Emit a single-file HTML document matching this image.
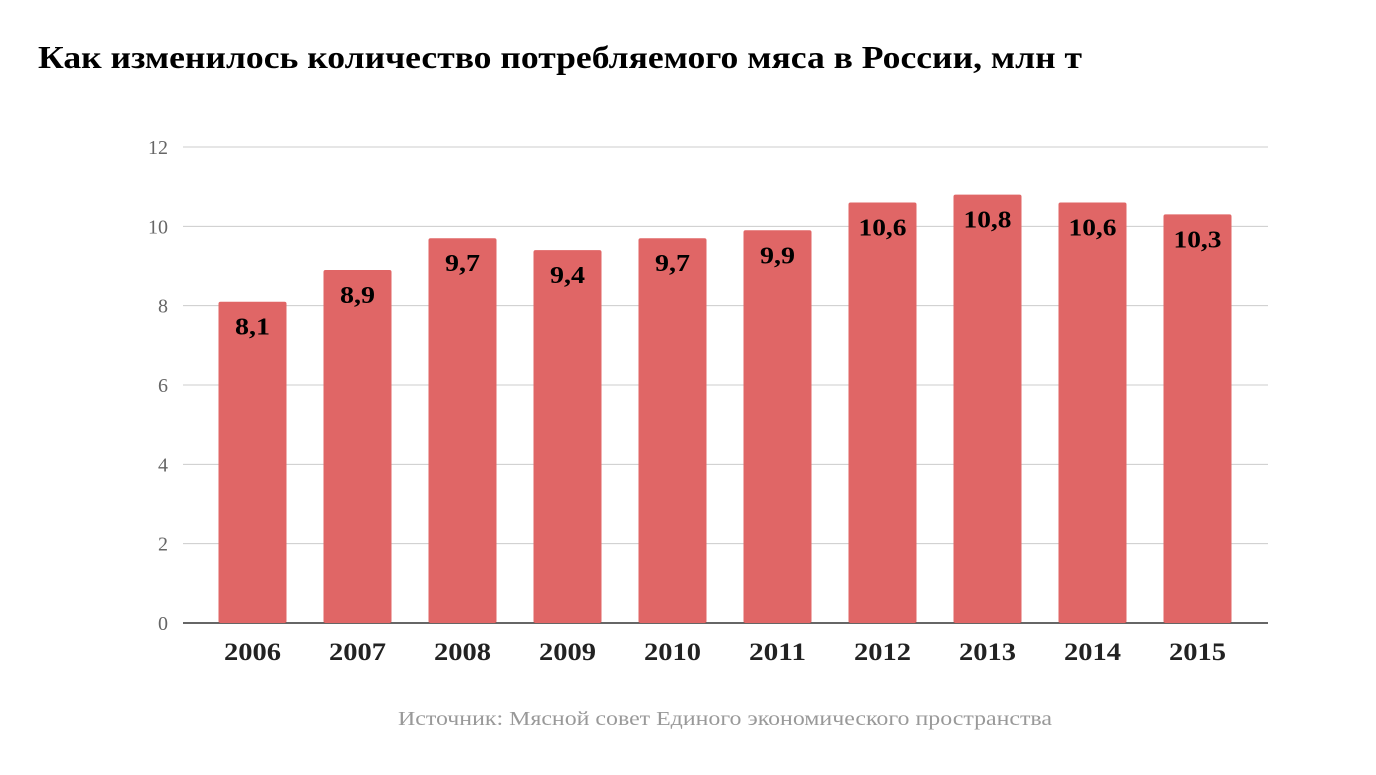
<!DOCTYPE html>
<html><head><meta charset="utf-8"><style>
body{margin:0;background:#fff;width:1376px;height:770px;overflow:hidden;font-family:"Liberation Serif",serif}
</style></head><body>
<svg width="1376" height="770" xmlns="http://www.w3.org/2000/svg">
<text x="38" y="68" font-family="Liberation Serif, serif" font-weight="bold" font-size="32" textLength="1044" lengthAdjust="spacingAndGlyphs" fill="#000">Как изменилось количество потребляемого мяса в России, млн т</text>
<g id="grid"></g><g id="bars"></g><g id="labels"></g>
<text x="398" y="725" font-family="Liberation Serif, serif" font-size="20" textLength="654" lengthAdjust="spacingAndGlyphs" fill="#999">Источник: Мясной совет Единого экономического пространства</text>
</svg>
<script>
const categories=["2006","2007","2008","2009","2010","2011","2012","2013","2014","2015"];
const values=[8.1,8.9,9.7,9.4,9.7,9.9,10.6,10.8,10.6,10.3];
const valueLabels=["8,1","8,9","9,7","9,4","9,7","9,9","10,6","10,8","10,6","10,3"];
const yTicks=[0,2,4,6,8,10,12];
const NS="http://www.w3.org/2000/svg";
const y0=623,y1=147,yMax=12;
const y=v=>y0-(v/yMax)*(y0-y1);
const bandX0=200,band=105,barW=68;
const xc=i=>bandX0+band*(i+0.5);
function mk(t,a,p){const e=document.createElementNS(NS,t);for(const k in a)e.setAttribute(k,a[k]);p.appendChild(e);return e;}
const grid=document.getElementById('grid'),bars=document.getElementById('bars'),labels=document.getElementById('labels');
yTicks.forEach(t=>{
 const l=mk('line',{x1:183,x2:1268,y1:y(t),y2:y(t),stroke:t===0?'#333':'#ccc','stroke-width':t===0?1.5:1},grid);
 
 
 const tx=mk('text',{x:168,y:y(t)+7,'text-anchor':'end','font-size':20,fill:'#666','font-family':'Liberation Serif, serif'},grid);
 tx.textContent=t;
 
 
});
categories.forEach((c,i)=>{
 const r=mk('rect',{x:xc(i)-barW/2,y:y(values[i]),width:barW,height:y0-y(values[i]),fill:'#e06666',rx:2},bars);
 
 
 const vl=valueLabels[i];
 const v=mk('text',{x:xc(i),y:y(values[i])+33,'text-anchor':'middle','font-size':24,'font-weight':'bold',fill:'#000','font-family':'Liberation Serif, serif',textLength:vl.length>3?48:35,lengthAdjust:'spacingAndGlyphs'},labels);
 v.textContent=vl;
 
 
 const xl=mk('text',{x:xc(i),y:660,'text-anchor':'middle','font-size':25,'font-weight':'bold',fill:'#222','font-family':'Liberation Serif, serif',textLength:57,lengthAdjust:'spacingAndGlyphs'},labels);
 xl.textContent=c;
 
 
});
</script>
</body></html>
